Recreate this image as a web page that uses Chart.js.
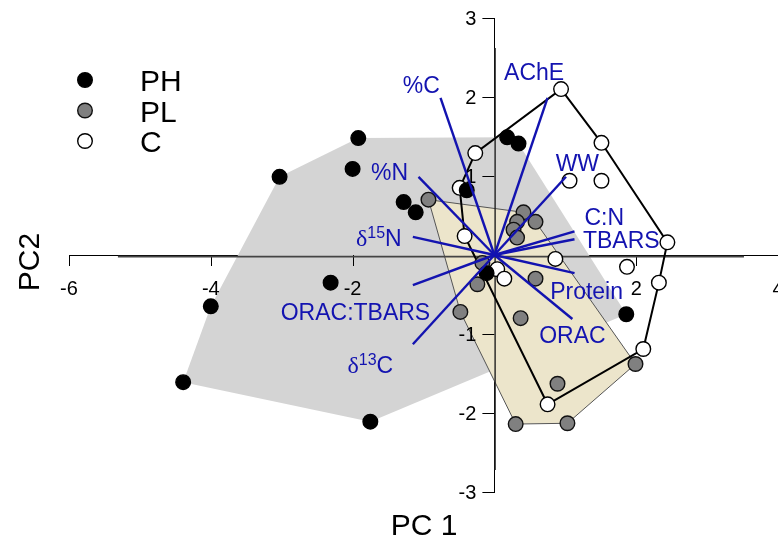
<!DOCTYPE html>
<html>
<head>
<meta charset="utf-8">
<title>PCA biplot</title>
<script src="https://cdn.jsdelivr.net/npm/chart.js@4"></script>
<style>
  body { margin: 0; background: #fff; }
  canvas { display: block; }
</style>
</head>
<body>
<canvas id="pcaChart" width="778" height="542"></canvas>
<script>
const xTicks = [-6, -4, -2, 0, 2, 4];
const yTicks = [-3, -2, -1, 0, 1, 2, 3];

const groupNames = ['PH', 'PL', 'C'];

// PC scores
const phPC1 = [-1.92, -2.00, -3.03, -1.28, -1.11, -2.31, -4.00, -4.39, -1.75, 0.18, 0.34, -0.39, 1.86, -0.11];
const phPC2 = [1.48, 1.09, 0.99, 0.67, 0.54, -0.35, -0.65, -1.61, -2.11, 1.49, 1.41, 0.82, -0.75, -0.23];

const plPC1 = [-0.93, 0.41, 0.58, 0.32, 0.27, 0.32, -0.17, -0.24, -0.48, 0.58, 0.37, 0.89, 1.99, 0.30, 1.03];
const plPC2 = [0.70, 0.54, 0.42, 0.42, 0.32, 0.22, -0.10, -0.37, -0.72, -0.30, -0.80, -1.63, -1.38, -2.14, -2.13];

const cPC1 = [0.94, 1.51, -0.27, -0.49, 1.06, 1.51, 2.44, -0.42, 0.86, 1.87, 2.32, 2.10, 0.75, 0.04, 0.14];
const cPC2 = [2.10, 1.42, 1.29, 0.85, 0.94, 0.94, 0.16, 0.24, -0.05, -0.15, -0.35, -1.19, -1.89, -0.18, -0.30];

// loadings (vector tips)
const loadingNames = ['%C', 'AChE', 'WW', 'C:N', 'TBARS', '%N', 'δ15N', 'ORAC:TBARS', 'δ13C', 'Protein', 'ORAC'];
const loadingPC1 = [-0.76, 0.75, 1.01, 1.13, 1.13, -1.07, -1.15, -1.15, -1.15, 1.13, 1.10];
const loadingPC2 = [1.99, 1.99, 0.99, 0.30, 0.20, 0.99, 0.23, -0.38, -1.13, -0.23, -0.81];

// where each loading label sits, in PC units
const labelAt = [
  [-1.03, 2.15], [0.56, 2.32], [1.17, 1.16], [1.55, 0.48], [1.79, 0.19], [-1.48, 1.05],
  [-1.63, 0.21], [-1.96, -0.72], [-1.75, -1.39], [1.30, -0.46], [1.10, -1.01]
];

const sans = 'Arial, "Liberation Sans", sans-serif';
const serif = '"Times New Roman", "Liberation Serif", serif';
const blue = '#1313b0';

const toPoints = (xs, ys) => xs.map((x, i) => ({x: x, y: ys[i]}));

function hull(pts) {
  const p = pts.slice().sort((a, b) => a.x - b.x || a.y - b.y);
  const cross = (o, a, b) => (a.x - o.x) * (b.y - o.y) - (a.y - o.y) * (b.x - o.x);
  const lower = [], upper = [];
  for (const q of p) {
    while (lower.length >= 2 && cross(lower[lower.length - 2], lower[lower.length - 1], q) <= 0) lower.pop();
    lower.push(q);
  }
  for (const q of p.slice().reverse()) {
    while (upper.length >= 2 && cross(upper[upper.length - 2], upper[upper.length - 1], q) <= 0) upper.pop();
    upper.push(q);
  }
  lower.pop(); upper.pop();
  const h = lower.concat(upper);
  h.push(h[0]);
  return h;
}

const phPts = toPoints(phPC1, phPC2);
const plPts = toPoints(plPC1, plPC2);
const cPts = toPoints(cPC1, cPC2);

const shape = (data, fill, border, width, order) => ({
  data: data, showLine: true, pointRadius: 0, fill: fill ? 'shape' : false,
  backgroundColor: fill || 'transparent', borderColor: border, borderWidth: width, order: order
});

const groupStyle = [
  {bg: '#000000', border: '#000000'},
  {bg: '#808080', border: '#111111'},
  {bg: '#ffffff', border: '#000000'}
];
const pointSet = (data, g, order) => ({
  data: data, pointRadius: 7.3, pointBorderWidth: 1.4,
  backgroundColor: groupStyle[g].bg, borderColor: groupStyle[g].border, order: order
});

const vectorSets = loadingNames.map((n, i) => ({
  data: [{x: 0, y: 0}, {x: loadingPC1[i], y: loadingPC2[i]}],
  showLine: true, pointRadius: 0, borderColor: blue, borderWidth: 2.4, order: 1
}));

const plShape = shape(hull(plPts), '#ece5cb', '#555', 1, 7);

const datasets = [
  ...vectorSets,
  pointSet(phPts, 0, 2),
  pointSet(plPts, 1, 3),
  pointSet(cPts, 2, 4),
  shape(hull(cPts), null, '#000', 2, 5),
  shape([{x: -5.31, y: -0.02}, {x: 3.52, y: -0.02}], null, '#444', 1.6, 6),
  shape([{x: 0.01, y: 2.62}, {x: 0.01, y: -2.72}], null, '#222', 1.4, 6),
  plShape,
  shape(hull(phPts), '#d4d4d4', 'transparent', 0, 8)
];
const plShapeIndex = datasets.indexOf(plShape);

function drawLoadingLabel(ctx, name, cx, cy) {
  ctx.fillStyle = blue;
  ctx.textAlign = 'left';
  ctx.textBaseline = 'alphabetic';
  const base = cy + 8;
  const m = name.match(/^δ(\d+)(.*)$/);
  if (!m) {
    ctx.font = '23px ' + sans;
    const w = ctx.measureText(name).width;
    ctx.fillText(name, cx - w / 2, base);
    return;
  }
  ctx.font = '24px ' + serif;
  const wd = ctx.measureText('δ').width;
  ctx.font = '16px ' + sans;
  const ws = ctx.measureText(m[1]).width;
  ctx.font = '23px ' + sans;
  const wr = ctx.measureText(m[2]).width;
  let x = cx - (wd + ws + wr) / 2;
  ctx.font = '24px ' + serif;
  ctx.fillText('δ', x, base);
  x += wd;
  ctx.font = '16px ' + sans;
  ctx.fillText(m[1], x, base - 8);
  x += ws;
  ctx.font = '23px ' + sans;
  ctx.fillText(m[2], x, base);
}

// tick marks and tick labels of the crossing axes, drawn above the hull shading
// but below the points
function drawCrossTicks(chart) {
  const ctx = chart.ctx;
  const sx = chart.scales.x, sy = chart.scales.y;
  const ax = sx.getPixelForValue(0), ay = sy.getPixelForValue(0);
  ctx.save();
  ctx.strokeStyle = '#000';
  ctx.lineWidth = 1;
  ctx.fillStyle = '#000';
  ctx.font = '20px ' + sans;
  ctx.textBaseline = 'alphabetic';
  ctx.beginPath();
  xTicks.forEach(v => {
    if (v === 0) return;
    const px = Math.round(sx.getPixelForValue(v)) + 0.5;
    ctx.moveTo(px, ay);
    ctx.lineTo(px, ay + 11);
  });
  yTicks.forEach(v => {
    if (v === 0) return;
    const py = Math.round(sy.getPixelForValue(v)) + 0.5;
    ctx.moveTo(ax, py);
    ctx.lineTo(ax - 12, py);
  });
  ctx.stroke();
  ctx.textAlign = 'center';
  xTicks.forEach(v => {
    if (v !== 0) ctx.fillText(String(v), sx.getPixelForValue(v), ay + 40);
  });
  ctx.textAlign = 'right';
  yTicks.forEach(v => {
    if (v !== 0) ctx.fillText(String(v), ax - 18, sy.getPixelForValue(v) + 7);
  });
  ctx.restore();
}

const overlay = {
  id: 'overlay',
  afterDatasetDraw(chart, args) {
    if (args.index === plShapeIndex) drawCrossTicks(chart);
  },
  afterDatasetsDraw(chart) {
    const ctx = chart.ctx;
    const sx = chart.scales.x, sy = chart.scales.y;
    ctx.save();
    loadingNames.forEach((n, i) => {
      drawLoadingLabel(ctx, n, sx.getPixelForValue(labelAt[i][0]), sy.getPixelForValue(labelAt[i][1]));
    });

    // legend
    groupNames.forEach((g, i) => {
      const y = 80 + i * 30.5;
      ctx.beginPath();
      ctx.arc(85, y, 7.3, 0, Math.PI * 2);
      ctx.fillStyle = groupStyle[i].bg;
      ctx.fill();
      ctx.lineWidth = 1.4;
      ctx.strokeStyle = groupStyle[i].border;
      ctx.stroke();
      ctx.fillStyle = '#000';
      ctx.font = '30px ' + sans;
      ctx.textAlign = 'left';
      ctx.textBaseline = 'alphabetic';
      ctx.fillText(g, 140, y + 11);
    });

    // axis titles
    ctx.fillStyle = '#000';
    ctx.font = '30px ' + sans;
    ctx.textAlign = 'center';
    ctx.textBaseline = 'alphabetic';
    ctx.fillText('PC 1', 424, 535);
    ctx.translate(39, 262);
    ctx.rotate(-Math.PI / 2);
    ctx.fillText('PC2', 0, 0);
    ctx.restore();
  }
};

new Chart(document.getElementById('pcaChart').getContext('2d'), {
  type: 'scatter',
  data: {datasets: datasets},
  options: {
    responsive: false,
    animation: false,
    layout: {autoPadding: false, padding: {left: 69, right: 0, top: 18, bottom: 50}},
    scales: {
      x: {
        type: 'linear', min: -6, max: 4, position: {y: 0},
        afterBuildTicks: s => { s.ticks = xTicks.map(v => ({value: v})); },
        afterFit: s => { s.paddingLeft = 0; s.paddingRight = 0; },
        grid: {drawOnChartArea: false, drawTicks: false},
        border: {color: '#000', width: 1},
        ticks: {display: false}
      },
      y: {
        type: 'linear', min: -3, max: 3, position: {x: 0},
        afterBuildTicks: s => { s.ticks = yTicks.map(v => ({value: v})); },
        afterFit: s => { s.paddingTop = 0; s.paddingBottom = 0; },
        grid: {drawOnChartArea: false, drawTicks: false},
        border: {color: '#000', width: 1},
        ticks: {display: false}
      }
    },
    plugins: {
      legend: {display: false},
      tooltip: {enabled: false}
    }
  },
  plugins: [overlay]
});
</script>
</body>
</html>
